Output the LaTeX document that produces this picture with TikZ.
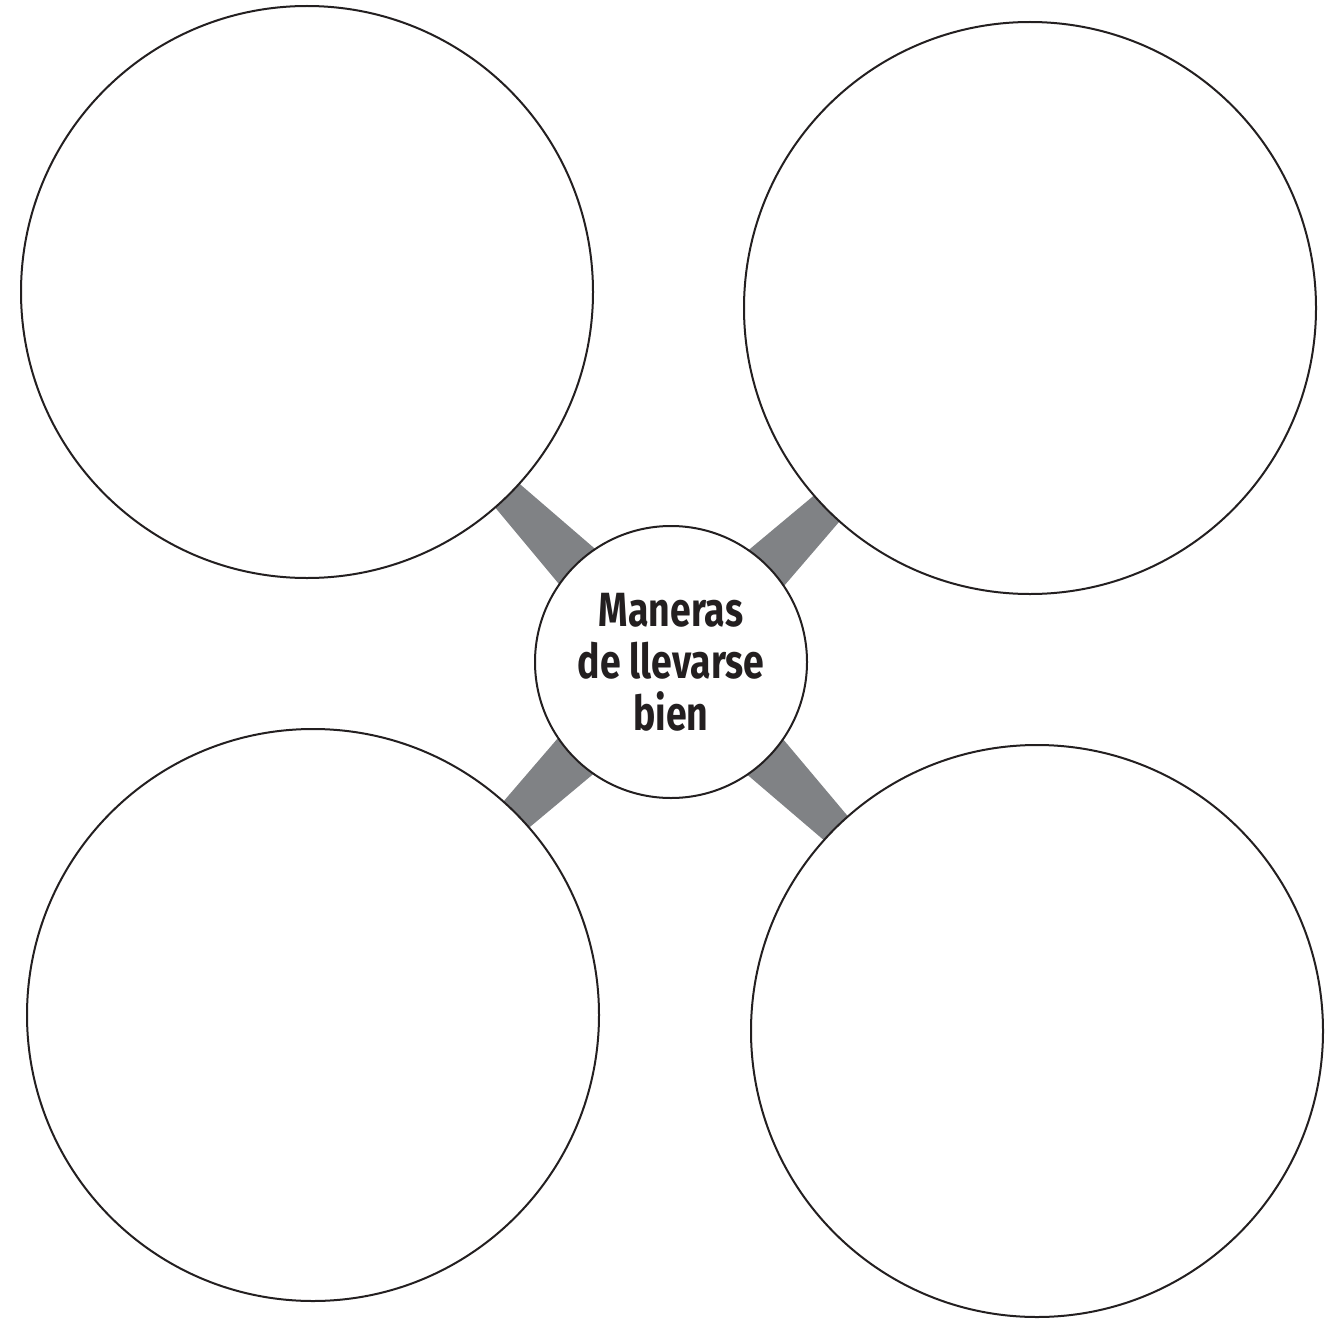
\documentclass[tikz,border=0pt]{standalone}
\usepackage{fontspec}
\usetikzlibrary{calc}
\newfontfamily\condfont[FakeStretch=0.78]{Fira Sans}
\definecolor{ink}{HTML}{231F20}
\definecolor{band}{HTML}{808285}
\begin{document}
\begin{tikzpicture}[x=1pt,y=-1pt,
  bigcirc/.style={circle,draw=ink,line width=2pt,fill=white,minimum size=572pt,inner sep=0pt},
  hubcirc/.style={circle,draw=ink,line width=2pt,fill=white,minimum size=272pt,inner sep=0pt,
     font=\condfont\bfseries\fontsize{48}{52}\selectfont,text=ink,align=center},
  bandfill/.style={fill=band,draw=none}]
\useasboundingbox (0,0) rectangle (1336,1319);
\coordinate (c) at (671,662);
\coordinate (tl) at (307,292);
\coordinate (tr) at (1030,308);
\coordinate (bl) at (313,1015);
\coordinate (br) at (1037,1031);
\foreach \o in {tl,tr,bl,br}{
  \fill[band] ($(c)!100pt!(\o)!28pt!90:(\o)$) -- ($(c)!100pt!(\o)!28pt!-90:(\o)$)
     -- ($(c)!300pt!(\o)!11.5pt!-90:(\o)$) -- ($(c)!300pt!(\o)!11.5pt!90:(\o)$) -- cycle;
}
\node[bigcirc] (ntl) at (tl) {};
\node[bigcirc] (ntr) at (tr) {};
\node[bigcirc] (nbl) at (bl) {};
\node[bigcirc] (nbr) at (br) {};
\node[hubcirc] (hub) at (c) {Maneras\\de llevarse\\bien};
\end{tikzpicture}
\end{document}
